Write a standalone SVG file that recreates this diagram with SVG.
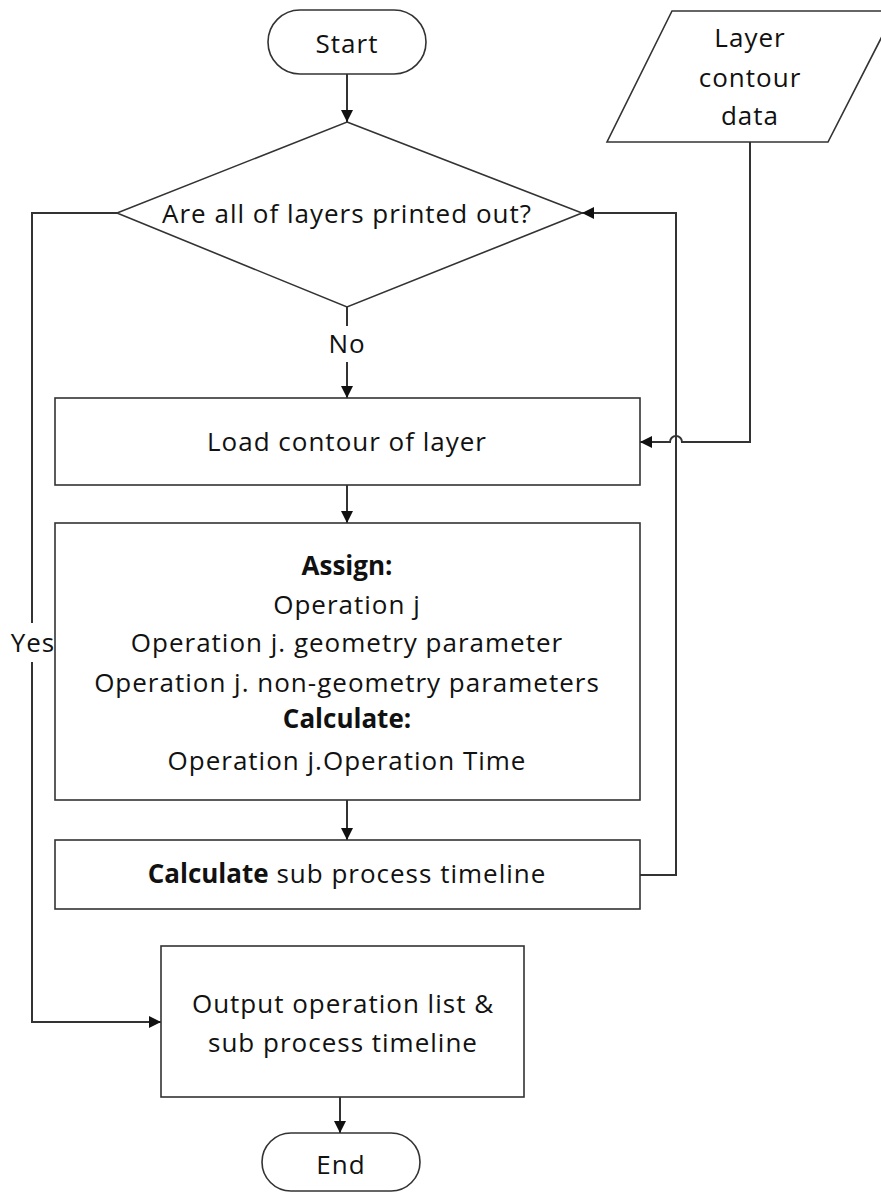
<svg xmlns="http://www.w3.org/2000/svg" width="881" height="1193" viewBox="0 0 881 1193">
<defs>
<style>
.s{fill:#fff;stroke:#333;stroke-width:1.6}
.c{fill:none;stroke:#333;stroke-width:2}
text{font-family:"Open Sans","Liberation Sans",sans-serif;font-size:26px;letter-spacing:1px;fill:#111;text-anchor:middle}
.b{font-weight:bold;letter-spacing:0}
</style>
<marker id="ah" viewBox="0 0 10 10" refX="10" refY="5" markerWidth="12" markerHeight="12" orient="auto" markerUnits="userSpaceOnUse">
<path d="M0,0 L10,5 L0,10 z" fill="#111"/>
</marker>
</defs>
<rect width="881" height="1193" fill="#fff"/>
<g id="connectors">
<path class="c" d="M347,74 V122" marker-end="url(#ah)"/>
<path class="c" d="M347,307 V326"/>
<path class="c" d="M347,362 V398" marker-end="url(#ah)"/>
<path class="c" d="M347,485 V523" marker-end="url(#ah)"/>
<path class="c" d="M347,800 V840" marker-end="url(#ah)"/>
<path class="c" d="M340,1097 V1133" marker-end="url(#ah)"/>
<path class="c" d="M750,142 V442 H682 A6,6 0 0 0 670,442 H640" marker-end="url(#ah)"/>
<path class="c" d="M640,875 H676 V213 H582" marker-end="url(#ah)"/>
<path class="c" d="M117,213 H32 V623"/>
<path class="c" d="M32,662 V1022 H161" marker-end="url(#ah)"/>
</g>
<g id="start"><rect class="s" x="268" y="10" width="158" height="64" rx="32"/><text x="347" y="53">Start</text></g>
<g id="data"><path class="s" d="M672,11 H895 L828,142 H607 Z"/><text x="750" y="47">Layer</text><text x="750" y="87">contour</text><text x="750" y="125">data</text></g>
<g id="decision"><path class="s" d="M347,122 L582,213 L347,307 L117,213 Z"/><text x="347" y="223">Are all of layers printed out?</text></g>
<g id="lbl-no"><text x="347" y="353">No</text></g>
<g id="lbl-yes"><text x="33" y="652">Yes</text></g>
<g id="load"><rect class="s" x="55" y="398" width="585" height="87"/><text x="347" y="451">Load contour of layer</text></g>
<g id="assign"><rect class="s" x="55" y="523" width="585" height="277"/>
<text x="347" y="575" class="b">Assign:</text>
<text x="347" y="614">Operation j</text>
<text x="347" y="652">Operation j. geometry parameter</text>
<text x="347" y="692">Operation j. non-geometry parameters</text>
<text x="347" y="728" class="b">Calculate:</text>
<text x="347" y="770">Operation j.Operation Time</text></g>
<g id="calc"><rect class="s" x="55" y="840" width="585" height="69"/><text x="347" y="883"><tspan class="b">Calculate</tspan> sub process timeline</text></g>
<g id="output"><rect class="s" x="161" y="946" width="363" height="151"/><text x="343" y="1013">Output operation list &amp;</text><text x="343" y="1052">sub process timeline</text></g>
<g id="end"><rect class="s" x="262" y="1133" width="158" height="58" rx="29"/><text x="341" y="1174">End</text></g>
</svg>
